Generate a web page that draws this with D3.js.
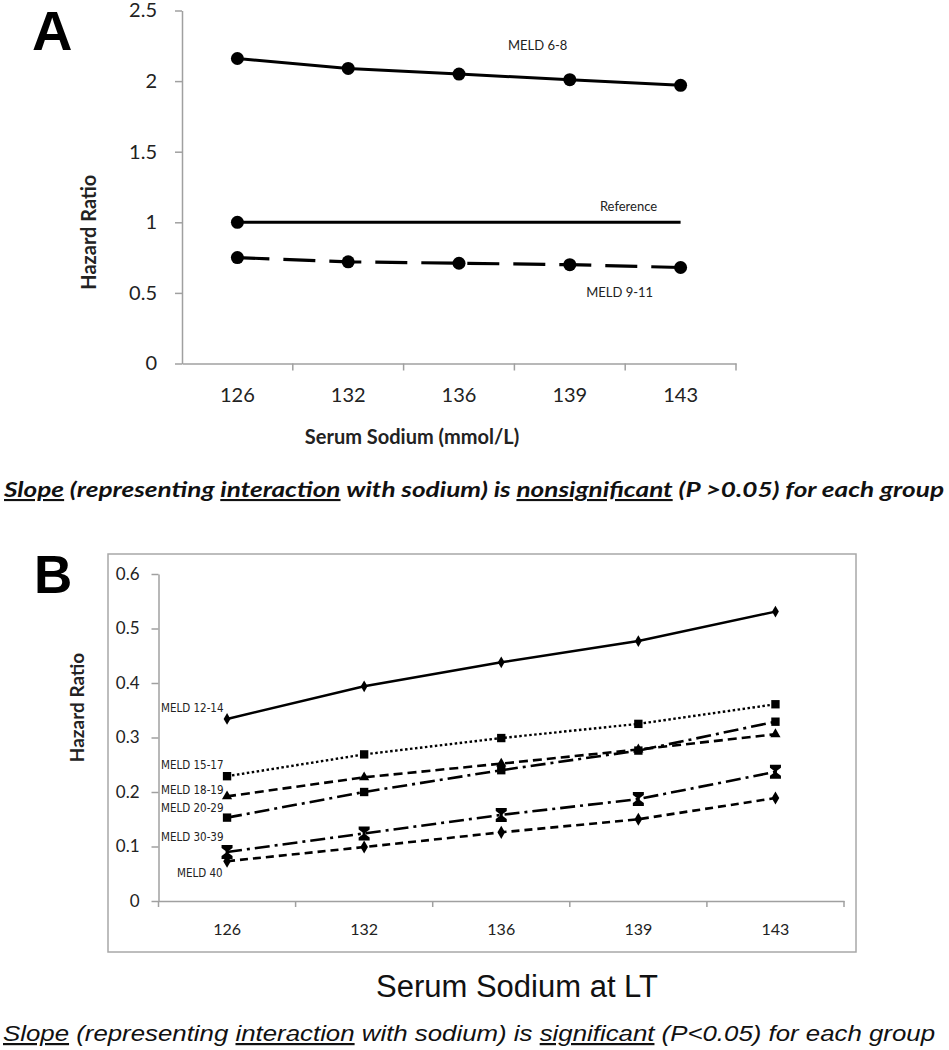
<!DOCTYPE html>
<html><head><meta charset="utf-8">
<script src="https://cdnjs.cloudflare.com/ajax/libs/d3/7.8.5/d3.min.js"></script>
<style>
html,body{margin:0;padding:0;background:#fff;}
svg{display:block;}
</style></head>
<body>
<svg id="chart" width="949" height="1050"></svg>
<script>
// ---------- DATA ----------
const sodium = ["126", "132", "136", "139", "143"];

// Panel A
const meld6_8  = [2.16, 2.09, 2.05, 2.01, 1.97];
const reference = [1, 1, 1, 1, 1];
const meld9_11 = [0.75, 0.72, 0.71, 0.70, 0.68];
const ticksA = [0, 0.5, 1, 1.5, 2, 2.5];

// Panel B
const meld12_14 = [0.334, 0.394, 0.438, 0.477, 0.531];
const meld15_17 = [0.229, 0.269, 0.299, 0.325, 0.361];
const meld18_19 = [0.192, 0.227, 0.252, 0.278, 0.306];
const meld20_29 = [0.153, 0.200, 0.240, 0.276, 0.329];
const meld30_39 = [0.090, 0.124, 0.158, 0.187, 0.237];
const meld40    = [0.073, 0.099, 0.126, 0.150, 0.189];
const ticksB = [0, 0.1, 0.2, 0.3, 0.4, 0.5, 0.6];

const labelsA = ["MELD 6-8", "Reference", "MELD 9-11"];
const labelsB = ["MELD 12-14", "MELD 15-17", "MELD 18-19", "MELD 20-29", "MELD 30-39", "MELD 40"];

// ---------- DRAW ----------
const svg = d3.select("#chart");
const calib = "Lato, 'Open Sans', sans-serif";
const axisGray = "#a0a0a0";

// ===== Panel A =====
const xA = d3.scaleBand().domain(sodium).range([182, 736]);
const yA = d3.scaleLinear().domain([0, 2.5]).range([363.5, 10.5]);

svg.append("text").attr("x", 32).attr("y", 50)
  .attr("font-family", "'Liberation Sans', Arial, sans-serif").attr("font-weight", "bold")
  .attr("font-size", 56).text("A");

const gAy = svg.append("g").attr("transform", `translate(${xA.range()[0]},0)`)
  .call(d3.axisLeft(yA).tickValues(ticksA).tickFormat(d => d).tickSize(7).tickPadding(18).tickSizeOuter(0));
gAy.selectAll("path,line").attr("stroke", axisGray).attr("stroke-width", 1.5);
gAy.selectAll("text").attr("font-family", calib).attr("font-size", 20).attr("fill", "#222");

const gAx = svg.append("g").attr("transform", `translate(0,${yA(0)})`)
  .call(d3.axisBottom(xA).tickSize(0).tickPadding(24).tickSizeOuter(0));
gAx.selectAll("path").attr("stroke", axisGray).attr("stroke-width", 1.5);
gAx.selectAll("text").attr("font-family", calib).attr("font-size", 20).attr("fill", "#222");
// boundary ticks
const bndA = sodium.map(d => xA(d)).concat([xA.range()[1]]);
svg.append("g").selectAll("line").data(bndA.slice(1)).join("line")
  .attr("x1", d => d).attr("x2", d => d).attr("y1", yA(0)).attr("y2", yA(0) + 7)
  .attr("stroke", axisGray).attr("stroke-width", 1.5);

const lineA = d3.line().x((d, i) => xA(sodium[i]) + xA.bandwidth() / 2).y(d => yA(d));
svg.append("path").datum(meld6_8).attr("d", lineA).attr("fill", "none").attr("stroke", "#000").attr("stroke-width", 3);
svg.append("path").datum(reference).attr("d", lineA).attr("fill", "none").attr("stroke", "#000").attr("stroke-width", 3);
svg.append("path").datum(meld9_11).attr("d", lineA).attr("fill", "none").attr("stroke", "#000").attr("stroke-width", 3.2)
  .attr("stroke-dasharray", "32,14");
function dotsA(arr, n) {
  svg.append("g").selectAll("circle").data(arr.slice(0, n)).join("circle")
    .attr("cx", (d, i) => xA(sodium[i]) + xA.bandwidth() / 2).attr("cy", d => yA(d)).attr("r", 6.5).attr("fill", "#000");
}
dotsA(meld6_8, 5); dotsA(reference, 1); dotsA(meld9_11, 5);

const lblA = svg.append("g").attr("font-family", calib).attr("font-size", 13).attr("fill", "#222").attr("text-anchor", "middle");
lblA.append("text").attr("x", xA("139") + xA.bandwidth() * 0.21).attr("y", yA(2.22)).text(labelsA[0]);
lblA.append("text").attr("x", xA("139") + xA.bandwidth() * 1.03).attr("y", yA(1.08)).text(labelsA[1]);
lblA.append("text").attr("x", xA("139") + xA.bandwidth() * 0.95).attr("y", yA(0.47)).text(labelsA[2]);

svg.append("text").attr("transform", `translate(96,${yA(0.93)}) rotate(-90)`)
  .attr("text-anchor", "middle").attr("font-family", calib).attr("font-weight", "bold").attr("font-size", 20)
  .attr("fill", "#222").text("Hazard Ratio");
svg.append("text").attr("x", 412).attr("y", 444).attr("text-anchor", "middle")
  .attr("font-family", calib).attr("font-weight", "bold").attr("font-size", 20).attr("fill", "#222")
  .text("Serum Sodium (mmol/L)");

// caption A
const capA = svg.append("text").attr("x", 4).attr("y", 497)
  .attr("font-family", calib).attr("font-weight", "bold").attr("font-style", "italic").attr("font-size", 21)
  .attr("fill", "#111").attr("textLength", 940).attr("lengthAdjust", "spacingAndGlyphs");
[["Slope", true], [" (representing ", false], ["interaction", true], [" with sodium) is  ", false],
 ["nonsignificant", true], [" (P >0.05) for each group", false]].forEach(([t, u]) => {
  capA.append("tspan").attr("text-decoration", u ? "underline" : null).text(t);
});

// ===== Panel B =====
svg.append("rect").attr("x", 108).attr("y", 554).attr("width", 748).attr("height", 398)
  .attr("fill", "none").attr("stroke", "#a8a8a8").attr("stroke-width", 1.5);
svg.append("text").attr("x", 34).attr("y", 593)
  .attr("font-family", "'Liberation Sans', Arial, sans-serif").attr("font-weight", "bold")
  .attr("font-size", 53).text("B");

const xB = d3.scaleBand().domain(sodium).range([158.5, 844]);
const yB = d3.scaleLinear().domain([0, 0.6]).range([901, 574]);

const gBy = svg.append("g").attr("transform", `translate(${xB.range()[0]},0)`)
  .call(d3.axisLeft(yB).tickValues(ticksB).tickFormat(d => d).tickSize(7).tickPadding(12).tickSizeOuter(0));
gBy.selectAll("path,line").attr("stroke", axisGray).attr("stroke-width", 1.5);
gBy.selectAll("text").attr("font-family", calib).attr("font-size", 17).attr("fill", "#222");

const gBx = svg.append("g").attr("transform", `translate(0,${yB(0)})`)
  .call(d3.axisBottom(xB).tickSize(0).tickPadding(23).tickSizeOuter(0));
gBx.selectAll("path").attr("stroke", axisGray).attr("stroke-width", 1.5);
gBx.selectAll("text").attr("font-family", calib).attr("font-size", 16).attr("fill", "#222");
const bndB = sodium.map(d => xB(d)).concat([xB.range()[1]]);
svg.append("g").selectAll("line").data(bndB).join("line")
  .attr("x1", d => d).attr("x2", d => d).attr("y1", yB(0)).attr("y2", yB(0) + 6)
  .attr("stroke", axisGray).attr("stroke-width", 1.5);

const cxB = i => xB(sodium[i]) + xB.bandwidth() / 2;
const lineB = d3.line().x((d, i) => cxB(i)).y(d => yB(d));
const hourglass = { draw(ctx, size) {
  const w = 5.5, h = 7;
  ctx.moveTo(-w, -h); ctx.lineTo(w, -h); ctx.lineTo(w, -h + 3); ctx.lineTo(1.5, -1);
  ctx.lineTo(1.5, 1); ctx.lineTo(w, h - 3); ctx.lineTo(w, h); ctx.lineTo(-w, h); ctx.lineTo(-w, h - 3);
  ctx.lineTo(-1.5, 1); ctx.lineTo(-1.5, -1); ctx.lineTo(-w, -h + 3); ctx.closePath();
} };
const seriesB = [
  { data: meld12_14, dash: null, width: 2.4, sym: d3.symbolDiamond, size: 40 },
  { data: meld15_17, dash: "2.5,2.5", width: 2.4, sym: d3.symbolSquare, size: 70 },
  { data: meld18_19, dash: "9,5", width: 2.6, sym: d3.symbolTriangle, size: 45 },
  { data: meld20_29, dash: "15,5,3,5", width: 2.6, sym: d3.symbolSquare, size: 70 },
  { data: meld30_39, dash: "15,5,3,5", width: 2.6, sym: hourglass, size: 60 },
  { data: meld40, dash: "8,5", width: 2.6, sym: d3.symbolDiamond, size: 50 }
];
seriesB.forEach(s => {
  svg.append("path").datum(s.data).attr("d", lineB).attr("fill", "none").attr("stroke", "#000")
    .attr("stroke-width", s.width).attr("stroke-dasharray", s.dash);
  svg.append("g").selectAll("path").data(s.data).join("path")
    .attr("transform", (d, i) => `translate(${cxB(i)},${yB(d)})`)
    .attr("d", d3.symbol(s.sym, s.size)()).attr("fill", "#000");
});

const lblB = svg.append("g").attr("font-family", "'DejaVu Sans Condensed', 'DejaVu Sans', sans-serif")
  .attr("font-size", 11.5).attr("fill", "#222");
const lblYs = [0.355, 0.250, 0.204, 0.170, 0.117, 0.051];
labelsB.forEach((t, i) => {
  lblB.append("text").attr("x", i === 5 ? 177 : 161).attr("y", yB(lblYs[i])).attr("dy", "0.35em").text(t);
});

svg.append("text").attr("transform", `translate(84,${yB(0.355)}) rotate(-90)`)
  .attr("text-anchor", "middle").attr("font-family", calib).attr("font-weight", "bold").attr("font-size", 19)
  .attr("fill", "#222").text("Hazard Ratio");

svg.append("text").attr("x", 517).attr("y", 997).attr("text-anchor", "middle")
  .attr("font-family", "'Liberation Sans', Arial, sans-serif").attr("font-size", 31).attr("fill", "#111")
  .text("Serum Sodium at LT");

const capB = svg.append("text").attr("x", 3).attr("y", 1041)
  .attr("font-family", "'Liberation Sans', Arial, sans-serif").attr("font-style", "italic").attr("font-size", 22)
  .attr("fill", "#111").attr("textLength", 932).attr("lengthAdjust", "spacingAndGlyphs");
[["Slope", true], [" (representing ", false], ["interaction", true], [" with sodium) is ", false],
 ["significant", true], [" (P<0.05) for each group", false]].forEach(([t, u]) => {
  capB.append("tspan").attr("text-decoration", u ? "underline" : null).text(t);
});
</script>
</body></html>
